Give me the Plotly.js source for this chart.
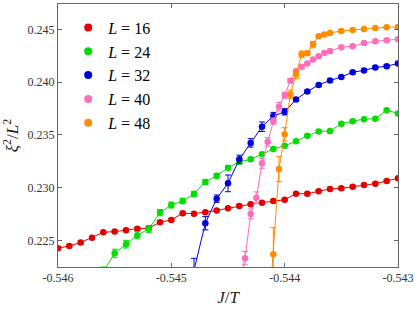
<!DOCTYPE html>
<html>
<head>
<meta charset="utf-8">
<script src="https://cdn.plot.ly/plotly-3.0.1.min.js"></script>
<style>html,body{margin:0;padding:0;background:#fff;}#chart{width:415px;height:309px;}</style>
</head>
<body>
<div id="chart"></div>
<script>
// ---- data ----
const seriesNames = ["<i>L</i> = 16", "<i>L</i> = 24", "<i>L</i> = 32", "<i>L</i> = 40", "<i>L</i> = 48"];
const seriesColors = ["#e50000", "#00dd00", "#0000dd", "#ff6eb8", "#ff8c00"];

const x16 = [-0.5460,-0.5459,-0.5458,-0.5457,-0.5456,-0.5455,-0.5454,-0.5453,-0.5452,-0.5451,-0.5450,-0.5449,-0.5448,-0.5447,-0.5446,-0.5445,-0.5444,-0.5443,-0.5442,-0.5441,-0.5440,-0.5439,-0.5438,-0.5437,-0.5436,-0.5435,-0.5434,-0.5433,-0.5432,-0.5431,-0.5430];
const y16 = [0.22428,0.22450,0.22481,0.22528,0.22579,0.22585,0.22598,0.22613,0.22617,0.22674,0.22696,0.22759,0.22755,0.22768,0.22785,0.22806,0.22828,0.22844,0.22859,0.22876,0.22887,0.22944,0.22944,0.22967,0.22989,0.22995,0.23010,0.23026,0.23039,0.23064,0.23090];
const e16 = [0.00012,0.00012,0.00012,0.00012,0.00012,0.00012,0.00012,0.00012,0.00012,0.00012,0.00012,0.00012,0.00012,0.00012,0.00012,0.00012,0.00012,0.00012,0.00012,0.00012,0.00012,0.00012,0.00012,0.00012,0.00012,0.00012,0.00012,0.00012,0.00012,0.00012,0.00012];

const x24 = [-0.5456,-0.5455,-0.5454,-0.5453,-0.5452,-0.5451,-0.5450,-0.5449,-0.5448,-0.5447,-0.5446,-0.5445,-0.5444,-0.5443,-0.5442,-0.5441,-0.5440,-0.5439,-0.5438,-0.5437,-0.5436,-0.5435,-0.5434,-0.5433,-0.5432,-0.5431,-0.5430];
const y24 = [0.22210,0.22380,0.22466,0.22551,0.22610,0.22765,0.22837,0.22875,0.22941,0.23055,0.23114,0.23190,0.23247,0.23269,0.23318,0.23367,0.23398,0.23440,0.23492,0.23534,0.23537,0.23606,0.23631,0.23650,0.23653,0.23735,0.23704];
const e24 = [0.00040,0.00038,0.00036,0.00034,0.00032,0.00030,0.00028,0.00026,0.00026,0.00024,0.00022,0.00020,0.00018,0.00016,0.00014,0.00014,0.00012,0.00012,0.00012,0.00012,0.00012,0.00012,0.00012,0.00012,0.00012,0.00012,0.00012];

const x32 = [-0.5448,-0.5447,-0.5446,-0.5445,-0.5444,-0.5443,-0.5442,-0.5441,-0.5440,-0.5439,-0.5438,-0.5437,-0.5436,-0.5435,-0.5434,-0.5433,-0.5432,-0.5431,-0.5430];
const y32 = [0.22220,0.22664,0.22897,0.23042,0.23269,0.23425,0.23578,0.23679,0.23719,0.23836,0.23912,0.23974,0.24016,0.24050,0.24095,0.24111,0.24139,0.24151,0.24177];
const e32 = [0.00112,0.00063,0.00035,0.00079,0.00040,0.00040,0.00045,0.00035,0.00030,0.00015,0.00012,0.00012,0.00012,0.00012,0.00012,0.00012,0.00012,0.00012,0.00012];

const x40 = [-0.5444,-0.54435,-0.5443,-0.54425,-0.5442,-0.54415,-0.5441,-0.54405,-0.5440,-0.54395,-0.5439,-0.54385,-0.5438,-0.54375,-0.5437,-0.54365,-0.5436,-0.5435,-0.5434,-0.5433,-0.5432,-0.5431,-0.5430];
const y40 = [0.22070,0.22334,0.22752,0.22906,0.23232,0.23436,0.23631,0.23767,0.23877,0.24014,0.24104,0.24145,0.24177,0.24215,0.24246,0.24277,0.24296,0.24331,0.24340,0.24371,0.24387,0.24397,0.24406];
const e40 = [0.00080,0.00063,0.00047,0.00055,0.00047,0.00040,0.00030,0.00040,0.00028,0.00020,0.00015,0.00012,0.00012,0.00012,0.00012,0.00012,0.00012,0.00012,0.00012,0.00012,0.00012,0.00012,0.00012];

const x48 = [-0.54415,-0.5441,-0.54405,-0.5440,-0.54395,-0.5439,-0.54385,-0.5438,-0.54375,-0.5437,-0.54365,-0.5436,-0.5435,-0.5434,-0.5433,-0.5432,-0.5431,-0.5430];
const y48 = [0.21650,0.22371,0.23178,0.23506,0.23884,0.24073,0.24265,0.24274,0.24356,0.24435,0.24451,0.24466,0.24485,0.24494,0.24504,0.24513,0.24520,0.24523];
const e48 = [0.00300,0.00252,0.00120,0.00063,0.00040,0.00040,0.00030,0.00020,0.00030,0.00015,0.00012,0.00012,0.00012,0.00012,0.00012,0.00012,0.00012,0.00012];

const xTicks = [-0.546, -0.545, -0.544, -0.543];
const xTickText = ["-0.546", "-0.545", "-0.544", "-0.543"];
const yTicks = [0.225, 0.230, 0.235, 0.240, 0.245];
const yTickText = ["0.225", "0.230", "0.235", "0.240", "0.245"];

// ---- traces ----
const xs = [x16, x24, x32, x40, x48];
const ys = [y16, y24, y32, y40, y48];
const es = [e16, e24, e32, e40, e48];
const traces = [];
for (let i = 0; i < 5; i++) {
  traces.push({
    type: "scatter", mode: "lines+markers",
    x: xs[i], y: ys[i],
    error_y: {type: "data", array: es[i], visible: true, color: seriesColors[i], thickness: 1, width: 3},
    line: {color: seriesColors[i], width: 1},
    marker: {color: seriesColors[i], size: 6.5},
    showlegend: false, hoverinfo: "skip"
  });
}
for (let i = 0; i < 5; i++) {
  traces.push({
    type: "scatter", mode: "markers", x: [null], y: [null],
    name: seriesNames[i],
    marker: {color: seriesColors[i], size: 8},
    showlegend: true
  });
}

const serif = "Times New Roman";
const layout = {
  width: 415, height: 309,
  margin: {l: 58, r: 17, t: 4, b: 42},
  paper_bgcolor: "#fff", plot_bgcolor: "#fff",
  font: {family: serif},
  showlegend: true,
  legend: {
    x: 0.03, y: 0.975, xanchor: "left", yanchor: "top",
    bgcolor: "rgba(0,0,0,0)", borderwidth: 0,
    font: {family: serif, size: 16, color: "#000"},
    itemwidth: 30, tracegroupgap: 0
  },
  xaxis: {
    range: [-0.546, -0.543],
    tickmode: "array", tickvals: xTicks, ticktext: xTickText,
    ticks: "inside", ticklen: 4, tickcolor: "#666",
    showline: true, linecolor: "#666", linewidth: 1, mirror: "ticks",
    showgrid: false, zeroline: false,
    tickfont: {family: serif, size: 12, color: "#333"},
    title: {text: "<i>J</i>/<i>T</i>", font: {family: serif, size: 17, color: "#222"}, standoff: 6}
  },
  yaxis: {
    range: [0.2225, 0.2474],
    tickmode: "array", tickvals: yTicks, ticktext: yTickText,
    ticks: "inside", ticklen: 4, tickcolor: "#666",
    showline: true, linecolor: "#666", linewidth: 1, mirror: "ticks",
    showgrid: false, zeroline: false,
    tickfont: {family: serif, size: 12, color: "#333"},
    title: {text: "<i>ξ</i><sup>2</sup>/<i>L</i><sup>2</sup>", font: {family: serif, size: 17, color: "#222"}, standoff: 6}
  }
};

Plotly.newPlot("chart", traces, layout, {displayModeBar: false, staticPlot: true});
</script>
</body>
</html>
